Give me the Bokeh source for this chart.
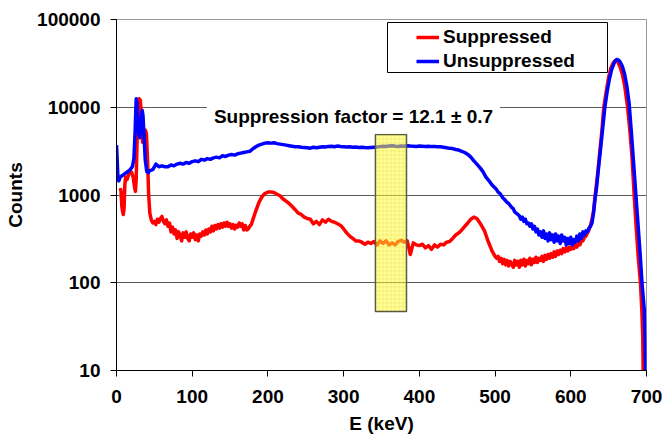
from bokeh.plotting import figure
from bokeh.models import (Range1d, FixedTicker, PrintfTickFormatter, Label, Legend,
                          LegendItem, BoxAnnotation, Title)
from bokeh.embed import file_html
from bokeh.resources import INLINE

# ---------------- data ----------------
x_ticks = [0, 100, 200, 300, 400, 500, 600, 700]
y_ticks = [10, 100, 1000, 10000, 100000]

# Unsuppressed spectrum (blue)
unsup_low_E = [0, 1, 2, 3, 5, 7, 9, 11, 13, 15, 17, 19, 21, 23, 24.5, 26, 27, 28, 29.5,
               31, 32.5, 34, 35, 36.5, 38, 40, 42]
unsup_low_C = [3700, 2400, 1500, 1450, 1600, 1650, 1700, 1750, 1800, 1850, 1900, 2000, 2100,
               2600, 5000, 12500, 11500, 8000, 5000, 4500, 7000, 9200, 8000, 4500, 2500, 1850, 1800]
unsup_mid_E = list(range(44, 500, 4))
unsup_mid_C = [1900, 1950, 2250, 2100, 2150, 2100, 2100, 2200, 2150, 2250,
               2300, 2250, 2350, 2300, 2400, 2450, 2400, 2550, 2500, 2600,
               2550, 2650, 2700, 2650, 2800, 2750, 2850, 2900, 2850, 2950,
               3000, 3050, 3100, 3150, 3350, 3550, 3700, 3800, 3900, 3950,
               3900, 3950, 3850, 3800, 3750, 3700, 3650, 3600, 3550, 3550,
               3500, 3480, 3450, 3420, 3500, 3450, 3500, 3550, 3520, 3580,
               3600, 3550, 3620, 3580, 3550, 3520, 3540, 3500, 3520, 3480,
               3500, 3470, 3460, 3480, 3500, 3520, 3560, 3600, 3580, 3620,
               3650, 3600, 3580, 3620, 3600, 3650, 3620, 3600, 3580, 3620,
               3600, 3580, 3600, 3560, 3580, 3550, 3540, 3500, 3450, 3400,
               3380, 3300, 3250, 3150, 3050, 2900, 2700, 2450, 2250, 2050,
               1850, 1600, 1450, 1300]
unsup_tail_E = list(range(500, 630, 2))
unsup_tail_C = [1200, 1150, 1080, 1050, 1000, 930, 900, 860, 820, 800,
                760, 720, 700, 640, 620, 600, 580, 530, 560, 500,
                530, 470, 480, 440, 470, 410, 440, 380, 410, 350,
                380, 330, 390, 320, 360, 300, 370, 310, 350, 290,
                360, 300, 340, 280, 350, 300, 330, 270, 320, 280,
                330, 270, 310, 290, 340, 300, 360, 320, 380, 350,
                390, 380, 420, 440, 480]
unsup_peak_E = [630, 632, 634, 636, 639, 642, 645, 648, 651, 654, 657, 659, 661, 663, 665,
                668, 671, 674, 677, 680, 683, 686, 689, 692, 694, 696, 697, 698, 698.7]
unsup_peak_C = [620, 900, 1200, 1800, 3150, 5600, 10000, 15000, 21000, 27000, 31500, 34000,
                35000, 34500, 33000, 29500, 24000, 17500, 11200, 5200, 2300, 1000, 440, 190,
                100, 63, 50, 22, 10]

# Suppressed spectrum (red)
sup_low_E = [5, 6, 7, 8, 9, 10, 11, 12, 14, 16, 18, 20, 22, 24, 25, 26, 27, 28, 30, 31.5,
             33, 34.5, 36, 38, 39.5, 41, 42.5]
sup_low_C = [1200, 1100, 750, 650, 600, 700, 1300, 1600, 1500, 1700, 1900, 1800, 1600, 1200,
             1100, 1500, 3500, 7000, 12500, 12000, 8000, 4000, 4500, 5500, 5000, 2500, 1000]
sup_a_E = list(range(44, 180, 2))
sup_a_C = [620, 520, 480, 500, 460, 530, 490, 540, 570, 500,
           470, 520, 440, 480, 380, 430, 360, 400, 320, 380,
           350, 300, 370, 330, 380, 320, 300, 360, 330, 370,
           310, 350, 300, 360, 340, 380, 350, 400, 360, 410,
           380, 440, 390, 450, 410, 460, 420, 470, 430, 480,
           440, 490, 440, 470, 420, 460, 410, 450, 430, 480,
           440, 470, 400, 450, 400, 410, 440, 460]
sup_b_E = list(range(180, 484, 4))
sup_b_C = [520, 660, 820, 950, 1040, 1080,
           1080, 1070, 1020, 980, 900, 850, 800, 740, 680, 620,
           600, 560, 540, 530, 470, 500, 460, 520, 490, 530,
           500, 490, 470, 450, 410, 370, 340, 320, 300, 300,
           290, 275, 290, 280, 295, 270, 300, 280, 300, 270,
           285, 270, 295, 305, 290, 300, 210, 285, 270, 265,
           275, 250, 265, 240, 270, 255, 275, 270, 290, 295,
           320, 350, 370, 400, 440, 480, 530, 560, 540, 480]
sup_c_E = list(range(484, 626, 2))
sup_c_C = [420, 390, 350, 310, 280, 255, 230, 215, 200, 190,
           200, 175, 190, 165, 185, 160, 180, 155, 175, 165,
           150, 180, 160, 175, 150, 180, 160, 185, 155, 180,
           165, 190, 160, 185, 170, 195, 170, 190, 180, 200,
           175, 205, 185, 210, 190, 215, 195, 225, 200, 230,
           210, 235, 215, 245, 225, 250, 230, 255, 240, 260,
           245, 270, 255, 280, 270, 300, 300, 330, 340, 370,
           400]
sup_peak_E = [626, 628, 630, 632, 635, 638, 641, 643.6, 647, 650, 653, 656, 658, 660, 662,
              665, 668, 671, 673, 675, 678, 681, 683.7, 686, 689, 692, 694, 695, 695.6]
sup_peak_C = [450, 530, 650, 950, 1600, 2900, 5300, 10000, 15500, 22000, 28000, 32000, 33500,
              34500, 33000, 29000, 24000, 18000, 13500, 10000, 5500, 2600, 1000, 480, 200,
              100, 45, 25, 10]

# highlighted window used for the suppression factor
window_E = [342, 383]
window_counts = [47, 4900]

for a, b in [(unsup_low_E, unsup_low_C), (unsup_mid_E, unsup_mid_C), (unsup_tail_E, unsup_tail_C),
             (unsup_peak_E, unsup_peak_C), (sup_low_E, sup_low_C), (sup_a_E, sup_a_C),
             (sup_b_E, sup_b_C), (sup_c_E, sup_c_C), (sup_peak_E, sup_peak_C)]:
    assert len(a) == len(b), (len(a), len(b))

unsup_E = unsup_low_E + unsup_mid_E + unsup_tail_E + unsup_peak_E
unsup_C = unsup_low_C + unsup_mid_C + unsup_tail_C + unsup_peak_C
sup_E = sup_low_E + sup_a_E + sup_b_E + sup_c_E + sup_peak_E
sup_C = sup_low_C + sup_a_C + sup_b_C + sup_c_C + sup_peak_C

FONT = "Liberation Sans"

p = figure(width=664, height=438, y_axis_type="log",
           x_range=Range1d(0, 700), y_range=Range1d(10, 100000),
           output_backend="svg", toolbar_location=None,
           min_border_left=116, min_border_right=18, min_border_top=19, min_border_bottom=68)

p.background_fill_color = "white"
p.border_fill_color = "white"
p.outline_line_color = "#999999"
p.outline_line_width = 1

p.xgrid.visible = False
p.ygrid.grid_line_color = "#5a5a5a"
p.ygrid.grid_line_width = 1

r_sup = p.line(sup_E, sup_C, line_color="#ff0000", line_width=3.5, line_join="round")
r_unsup = p.line(unsup_E, unsup_C, line_color="#0000ff", line_width=3.5, line_join="round")

p.quad(left=[window_E[0]], right=[window_E[1]], bottom=[window_counts[0]], top=[window_counts[1]],
       fill_color="#ffff33", fill_alpha=0.5, line_color="#5a5a40", line_width=1.5,
       hatch_pattern="+", hatch_color="#d9b800", hatch_alpha=0.35, hatch_scale=4, hatch_weight=0.6)

for ax in (p.xaxis, p.yaxis):
    ax.axis_line_color = "black"
    ax.axis_line_width = 1
    ax.major_tick_line_color = "black"
    ax.major_tick_line_width = 1
    ax.major_tick_in = 0
    ax.major_tick_out = 6
    ax.minor_tick_line_color = None
    ax.major_label_text_font = FONT
    ax.major_label_text_font_style = "bold"
    ax.major_label_text_font_size = "19px"
    ax.major_label_text_color = "black"
    ax.axis_label_text_font = FONT
    ax.axis_label_text_font_style = "bold"
    ax.axis_label_text_font_size = "19px"
    ax.axis_label_text_color = "black"

p.xaxis.ticker = FixedTicker(ticks=x_ticks)
p.yaxis.ticker = FixedTicker(ticks=y_ticks)
p.yaxis.formatter = PrintfTickFormatter(format="%d")
p.xaxis.formatter = PrintfTickFormatter(format="%d")
p.yaxis.axis_label = "Counts"
p.yaxis.major_label_standoff = 10
p.xaxis.major_label_standoff = 13
p.yaxis.axis_label_standoff = 8

xtitle = Title(text="E (keV)", align="center", standoff=10, offset=0,
               text_font=FONT, text_font_style="bold", text_font_size="19px",
               text_color="black")
p.add_layout(xtitle, "below")

label = Label(x=313, y=7900, text="Suppression factor = 12.1 \u00b1 0.7",
              text_align="center", text_baseline="middle",
              text_font=FONT, text_font_style="bold", text_font_size="19px",
              text_color="black", background_fill_color="white", padding=7)
p.add_layout(label)

legend_box = BoxAnnotation(left=271, right=491, top=348, bottom=298,
                           left_units="screen", right_units="screen",
                           top_units="screen", bottom_units="screen",
                           fill_color="white", fill_alpha=1.0,
                           line_color="black", line_width=1, line_alpha=1.0)
p.add_layout(legend_box)

legend = Legend(items=[LegendItem(label="Suppressed", renderers=[r_sup]),
                       LegendItem(label="Unsuppressed", renderers=[r_unsup])],
                location=(300, 297), orientation="vertical",
                border_line_alpha=0, background_fill_alpha=0,
                padding=0, spacing=0, margin=0,
                glyph_width=23, glyph_height=24, label_height=24, label_standoff=4,
                label_text_font=FONT, label_text_font_style="bold",
                label_text_font_size="19px", label_text_color="black")
p.add_layout(legend)

open("out.html", "w").write(file_html(p, INLINE))
